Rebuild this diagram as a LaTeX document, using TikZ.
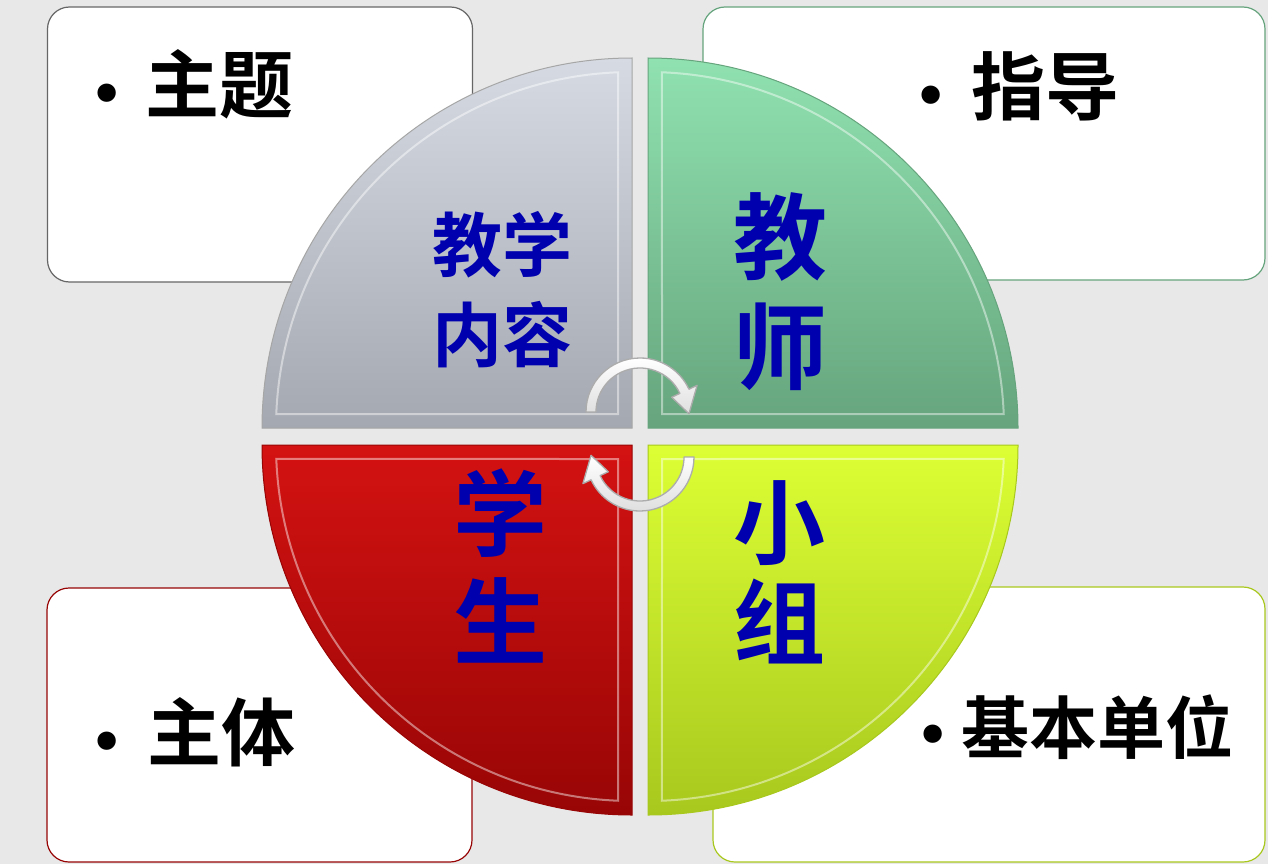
\documentclass[tikz,border=0pt]{standalone}
\usepackage{fontspec}
\newfontfamily\cjk{Noto Sans CJK SC}[BoldFont={Noto Sans CJK SC Bold}]
\newfontfamily\sym{DejaVu Sans}
\definecolor{bgc}{HTML}{E8E8E8}
\definecolor{txtblue}{RGB}{0,0,175}
\definecolor{grayT}{HTML}{D6DBE3}
\definecolor{grayB}{HTML}{A4A8B0}
\definecolor{greenT}{HTML}{90E2B0}
\definecolor{greenB}{HTML}{66A47D}
\definecolor{yelT}{HTML}{DCFF34}
\definecolor{yelB}{HTML}{A8C81E}
\definecolor{redT}{HTML}{D41212}
\definecolor{redB}{HTML}{980505}
\newcommand{\bul}{{\sym\fontsize{52}{52}\selectfont •}}
\tikzset{
  box/.style={draw, line width=1.2pt, fill=white, rounded corners=22pt, inner sep=0pt},
  corner text/.style={font=\cjk\bfseries\fontsize{74}{80}\selectfont, text=black, anchor=west, inner sep=0pt},
  quad text/.style 2 args={font=\cjk\bfseries\fontsize{#1}{#2}\selectfont, text=txtblue, align=center, inner sep=0pt},
  bevel/.style={draw=white, draw opacity=0.45, line width=2pt},
  cyc arrow/.style={top color=white, bottom color=gray!25, draw=gray!65, line width=1.3pt, line join=round}
}
\begin{document}
\begin{tikzpicture}[x=1pt,y=-1pt]
\useasboundingbox (0,0) rectangle (1268,864);
\fill[bgc] (0,0) rectangle (1268,864);
% corner boxes
\node[box, draw=gray!80!black, minimum width=425pt, minimum height=275pt] (tl) at (260,144.5) {};
\node[box, draw=greenB, minimum width=562pt, minimum height=273pt] (tr) at (984,143.5) {};
\node[box, draw=redB, minimum width=425pt, minimum height=274pt] (bl) at (259.5,725) {};
\node[box, draw=yelB, minimum width=552pt, minimum height=275pt] (br) at (989,724.5) {};
\node[corner text] (tlt) at (90,84) {\bul\hspace{22pt}主题};
\node[corner text] (trt) at (914,86) {\bul\hspace{24pt}指导};
\node[corner text] (blt) at (90,732) {\bul\hspace{24pt}主体};
\node[corner text, font=\cjk\bfseries\fontsize{68}{74}\selectfont] (brt) at (916,727) {\bul\hspace{12pt}基本单位};
% quadrants
\begin{scope}[shift={(632,428)}]
  \path[top color=grayT, bottom color=grayB, draw=gray!70, line width=1pt] (0,0) -- (180:370) arc[start angle=180, end angle=270, radius=370] -- cycle;
  \draw[bevel] (-14,-14) -- (182.25:356) arc[start angle=182.25, end angle=267.75, radius=356] -- cycle;
\end{scope}
\begin{scope}[shift={(648,428)}]
  \path[top color=greenT, bottom color=greenB, draw=greenB, line width=1pt] (0,0) -- (270:370) arc[start angle=270, end angle=360, radius=370] -- cycle;
  \draw[bevel] (14,-14) -- (272.25:356) arc[start angle=272.25, end angle=357.75, radius=356] -- cycle;
\end{scope}
\begin{scope}[shift={(648,445)}]
  \path[top color=yelT, bottom color=yelB, draw=yelB, line width=1pt] (0,0) -- (0:370) arc[start angle=0, end angle=90, radius=370] -- cycle;
  \draw[bevel] (14,14) -- (2.25:356) arc[start angle=2.25, end angle=87.75, radius=356] -- cycle;
\end{scope}
\begin{scope}[shift={(632,445)}]
  \path[top color=redT, bottom color=redB, draw=redB, line width=1pt] (0,0) -- (90:370) arc[start angle=90, end angle=180, radius=370] -- cycle;
  \draw[bevel] (-14,14) -- (92.25:356) arc[start angle=92.25, end angle=177.75, radius=356] -- cycle;
\end{scope}
% quadrant texts
\node[quad text={70}{90}] (qgray) at (502,290) {教学\\内容};
\node[quad text={94}{110}] (qgreen) at (780,292) {教\\师};
\node[quad text={94}{108}] (qred) at (500,566) {学\\生};
\node[quad text={92}{100}] (qyel) at (779,572) {小\\组};
% cycle arrows
\begin{scope}[shift={(640,412)}]
  \path[cyc arrow] (180:54) arc[start angle=180, end angle=335, radius=54]
    -- (335:63) -- (2:49) -- (335:35) -- (335:44)
    arc[start angle=335, end angle=180, radius=44] -- cycle;
\end{scope}
\begin{scope}[shift={(640,457)}]
  \path[cyc arrow] (0:54) arc[start angle=0, end angle=155, radius=54]
    -- (155:63) -- (182:49) -- (155:35) -- (155:44)
    arc[start angle=155, end angle=0, radius=44] -- cycle;
\end{scope}
\end{tikzpicture}
\end{document}
